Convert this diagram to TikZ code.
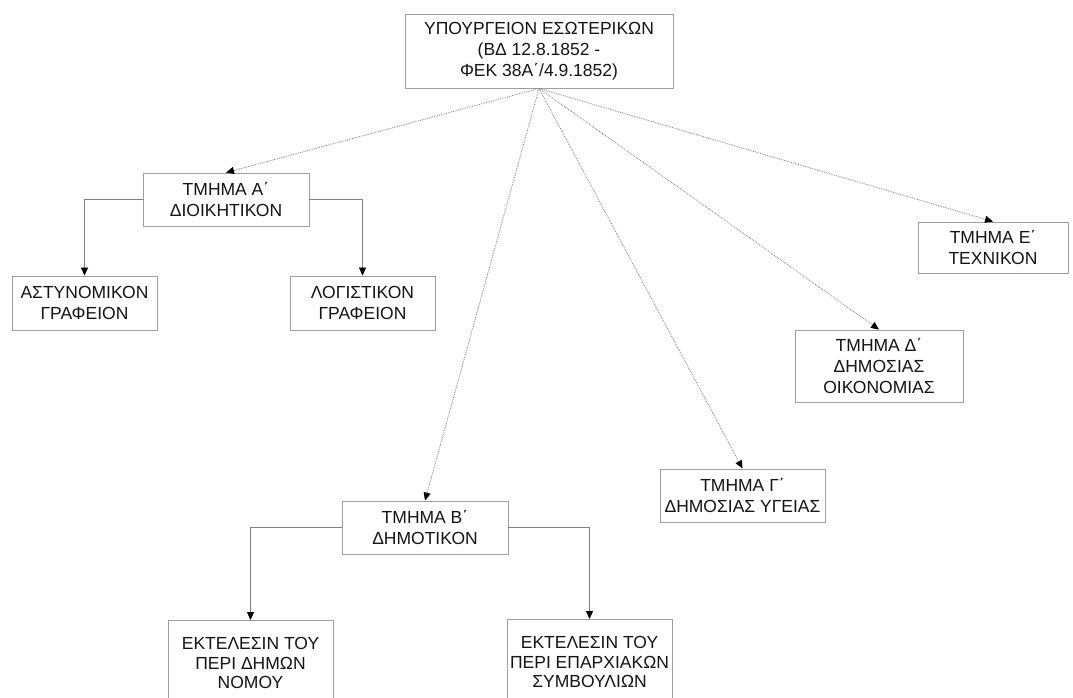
\documentclass[tikz,border=0pt]{standalone}
\usepackage{fontspec}
\setmainfont{Liberation Sans}
\usetikzlibrary{arrows.meta}
\definecolor{boxline}{gray}{0.62}
\definecolor{linkline}{gray}{0.5}
\definecolor{txt}{gray}{0.08}
\tikzset{
  box/.style={draw=boxline, line width=0.9pt, fill=white, align=center, inner sep=0pt,
    text=txt, font=\fontsize{17.5}{21}\selectfont},
  tip/.style={-{Triangle[black, width=7pt, length=8pt]}},
  mainlink/.style={tip, draw=linkline, line width=0.8pt, densely dotted},
  sublink/.style={tip, draw=linkline, line width=0.8pt},
  boxlabel/.style={anchor=north, yshift=-14pt, align=center, text=txt, font=\fontsize{17.5}{19.5}\selectfont},
}
\begin{document}
\begin{tikzpicture}[x=1pt, y=-1pt]
\useasboundingbox (0,0) rectangle (1073,697);
\clip (0,0) rectangle (1073,697);
\fill[white] (0,0) rectangle (1073,697);

\node[box, minimum width=268pt, minimum height=74pt] (top) at (539,51)
  {ΥΠΟΥΡΓΕΙΟΝ ΕΣΩΤΕΡΙΚΩΝ\\(ΒΔ 12.8.1852 -\\ΦΕΚ 38Α΄/4.9.1852)};

\node[box, minimum width=166pt, minimum height=53pt] (A) at (226,199.5)
  {ΤΜΗΜΑ Α΄\\ΔΙΟΙΚΗΤΙΚΟΝ};
\node[box, minimum width=145pt, minimum height=54pt] (ast) at (84.5,303)
  {ΑΣΤΥΝΟΜΙΚΟΝ\\ΓΡΑΦΕΙΟΝ};
\node[box, minimum width=145pt, minimum height=54pt] (log) at (362.5,303)
  {ΛΟΓΙΣΤΙΚΟΝ\\ΓΡΑΦΕΙΟΝ};

\node[box, minimum width=166pt, minimum height=53pt] (B) at (425,527.5)
  {ΤΜΗΜΑ Β΄\\ΔΗΜΟΤΙΚΟΝ};
\node[box, minimum width=165pt, minimum height=110pt, anchor=north,
  label={[boxlabel]north:ΕΚΤΕΛΕΣΙΝ ΤΟΥ\\ΠΕΡΙ ΔΗΜΩΝ\\ΝΟΜΟΥ}]
  (nom) at (250.5,620) {};
\node[box, minimum width=165pt, minimum height=110pt, anchor=north,
  label={[boxlabel]north:ΕΚΤΕΛΕΣΙΝ ΤΟΥ\\ΠΕΡΙ ΕΠΑΡΧΙΑΚΩΝ\\ΣΥΜΒΟΥΛΙΩΝ}]
  (epa) at (589.5,619) {};

\node[box, minimum width=165pt, minimum height=53pt] (G) at (742.5,495.5)
  {ΤΜΗΜΑ Γ΄\\ΔΗΜΟΣΙΑΣ ΥΓΕΙΑΣ};
\node[box, minimum width=168pt, minimum height=72pt] (D) at (879,366)
  {ΤΜΗΜΑ Δ΄\\ΔΗΜΟΣΙΑΣ\\ΟΙΚΟΝΟΜΙΑΣ};
\node[box, minimum width=150pt, minimum height=51pt] (E) at (993,247.5)
  {ΤΜΗΜΑ Ε΄\\ΤΕΧΝΙΚΟΝ};

\draw[mainlink] (top.south) -- (A.north);
\draw[mainlink] (top.south) -- (B.north);
\draw[mainlink] (top.south) -- (G.north);
\draw[mainlink] (top.south) -- (D.north);
\draw[mainlink] (top.south) -- (E.north);

\draw[sublink] (A.west) -| (ast.north);
\draw[sublink] (A.east) -| (log.north);
\draw[sublink] (B.west) -| (nom.north);
\draw[sublink] (B.east) -| (epa.north);
\end{tikzpicture}
\end{document}
